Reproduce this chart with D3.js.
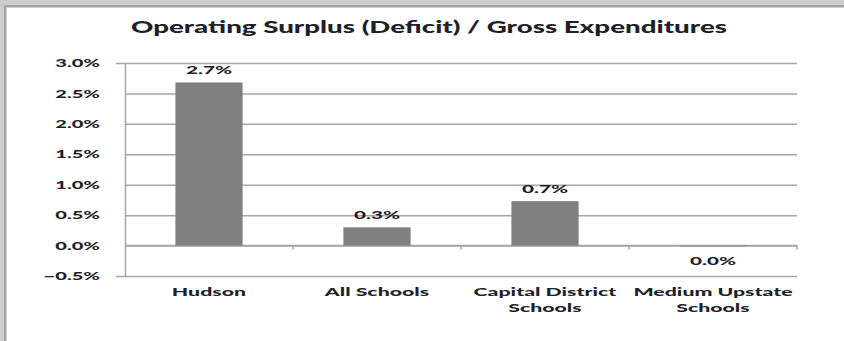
<!DOCTYPE html>
<html>
<head>
<meta charset="utf-8">
<script src="https://cdn.jsdelivr.net/npm/d3@7"></script>
<style>
  body { margin: 0; background: #fff; }
  svg { display: block; }
  text { font-family: Lato, "Open Sans", sans-serif; font-weight: 900; fill: #1f1f2a; }
</style>
</head>
<body>
<div id="chart"></div>
<script>
// chart data
const categories = [["Hudson"], ["All Schools"], ["Capital District", "Schools"], ["Medium Upstate", "Schools"]];
const values = [2.68, 0.30, 0.73, -0.01];
const valueLabels = ["2.7%", "0.3%", "0.7%", "0.0%"];
const yTicks = [-0.5, 0, 0.5, 1.0, 1.5, 2.0, 2.5, 3.0];
const title = "Operating Surplus (Deficit) / Gross Expenditures";

const width = 844, height = 341;
const svg = d3.select("#chart").append("svg").attr("width", width).attr("height", height);

// widen text like the stretched original picture
function stretch(sel, k) {
    sel.each(function() {
        const w = this.getComputedTextLength();
        this.setAttribute("textLength", w * k);
        this.setAttribute("lengthAdjust", "spacingAndGlyphs");
    });
}

// window frame at top/left
svg.append("rect").attr("x", 0).attr("y", 0).attr("width", width).attr("height", 8).attr("fill", "#cdcdcd");
svg.append("rect").attr("x", 0).attr("y", 0).attr("width", 7).attr("height", height).attr("fill", "#cdcdcd");
svg.append("path").attr("d", `M5,${height} V6 H${width}`).attr("fill", "none").attr("stroke", "#a3a3a3").attr("stroke-width", 2);

const left = 125, right = 797;
const x = d3.scaleBand().domain(d3.range(categories.length)).range([left, right]).paddingInner(0.6).paddingOuter(0.3);
const y = d3.scaleLinear().domain([-0.5, 3.0]).range([276, 63]);

// gridlines + y axis
const yAxis = d3.axisLeft(y).tickValues(yTicks).tickSize(9).tickPadding(16).tickFormat(d => d3.format(".1f")(d) + "%");
const gy = svg.append("g").attr("transform", `translate(${left},0)`).call(yAxis);
gy.select(".domain").attr("stroke", "#a6a6a6").attr("stroke-width", 1.5);
gy.selectAll(".tick line").attr("stroke", "#a6a6a6").attr("stroke-width", 1.5).attr("x2", right - left);
gy.selectAll(".tick text").attr("font-size", 11.5).attr("font-family", null).attr("fill", null);
stretch(gy.selectAll(".tick text"), 1.75);

// x axis line at zero with boundary ticks
svg.append("line").attr("x1", left).attr("x2", right).attr("y1", y(0)).attr("y2", y(0))
    .attr("stroke", "#a6a6a6").attr("stroke-width", 1.5);
const bounds = d3.range(1, categories.length + 1).map(i => left + i * x.step());
svg.selectAll(".xtick").data(bounds).enter().append("line")
    .attr("x1", d => d).attr("x2", d => d).attr("y1", y(0)).attr("y2", y(0) + 4)
    .attr("stroke", "#a6a6a6").attr("stroke-width", 1.5);

// bars
svg.selectAll(".bar").data(values).enter().append("rect")
    .attr("x", (d, i) => x(i))
    .attr("width", x.bandwidth())
    .attr("y", d => y(Math.max(0, d)))
    .attr("height", d => Math.abs(y(d) - y(0)))
    .attr("fill", "#808080");

// value labels
const vl = svg.selectAll(".vlabel").data(values).enter().append("text")
    .attr("x", (d, i) => x(i) + x.bandwidth() / 2)
    .attr("y", d => d >= 0 ? y(d) - 8.5 : y(0) + 19)
    .attr("text-anchor", "middle").attr("font-size", 11.5)
    .text((d, i) => valueLabels[i]);
stretch(vl, 1.8);

// category labels
categories.forEach((lines, i) => {
    lines.forEach((t, j) => {
        const el = svg.append("text")
            .attr("x", x(i) + x.bandwidth() / 2)
            .attr("y", 296 + j * 15.5)
            .attr("text-anchor", "middle").attr("font-size", 11.5)
            .text(t);
        stretch(el, 1.85);
    });
});

// title
const tt = svg.append("text").attr("x", 429).attr("y", 33).attr("text-anchor", "middle")
    .attr("font-size", 16).text(title);
stretch(tt, 1.73);
</script>
</body>
</html>
